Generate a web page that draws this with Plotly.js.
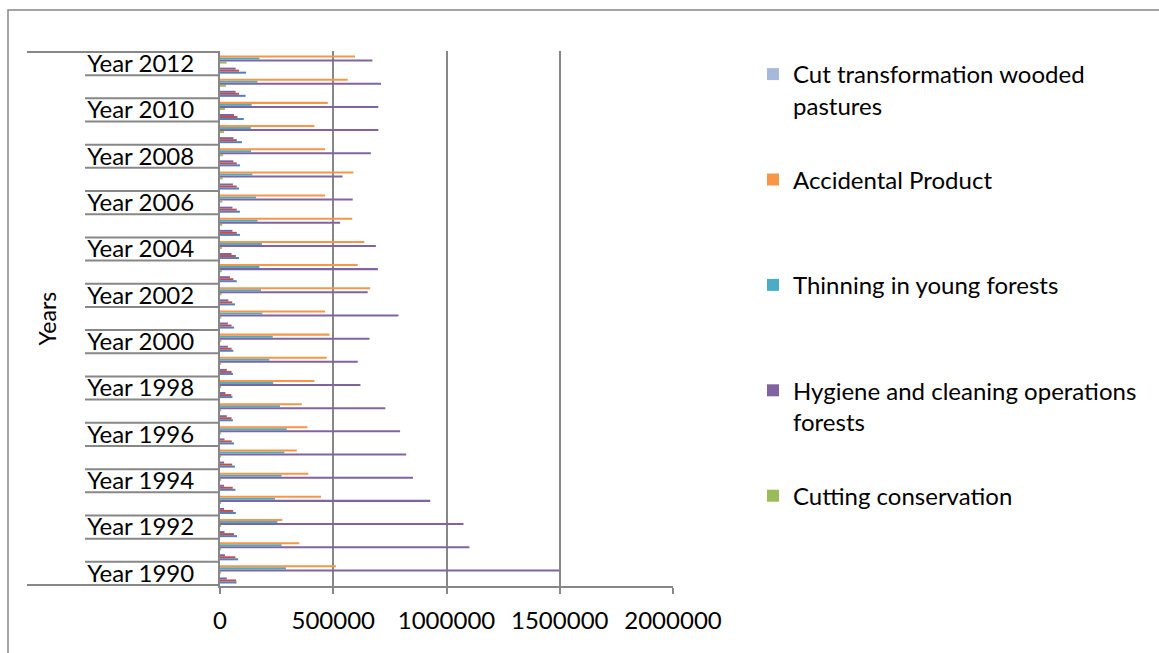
<!DOCTYPE html>
<html>
<head>
<meta charset="utf-8">
<script src="https://cdn.plot.ly/plotly-3.0.1.min.js"></script>
<style>
  html, body { margin: 0; padding: 0; background: #ffffff; }
  #chart { width: 1159px; height: 653px; }
</style>
</head>
<body>
<div id="chart"></div>
<script>
// ---- data ----
const years = ["Year 1990","Year 1991","Year 1992","Year 1993","Year 1994","Year 1995","Year 1996","Year 1997",
  "Year 1998","Year 1999","Year 2000","Year 2001","Year 2002","Year 2003","Year 2004","Year 2005","Year 2006",
  "Year 2007","Year 2008","Year 2009","Year 2010","Year 2011","Year 2012"];
const tickLabels = ["Year 1990","Year 1992","Year 1994","Year 1996","Year 1998","Year 2000","Year 2002",
  "Year 2004","Year 2006","Year 2008","Year 2010","Year 2012"];
const xTicks = [0, 500000, 1000000, 1500000, 2000000];

const seriesA = [73000,80000,75000,70000,68000,66000,62000,57000,55000,57000,59000,62000,66000,74000,84000,88000,88000,84000,88000,97000,105000,113000,115000];
const seriesB = [71000,68000,62000,58000,56000,54000,52000,51000,50000,51000,51000,51000,54000,59000,70000,74000,74000,74000,74000,74000,77000,84000,84000];
const seriesC = [30000,22000,20000,18000,18000,18000,20000,30000,24000,30000,35000,35000,37000,44000,51000,55000,55000,57000,59000,59000,62000,69000,69000];
const seriesD = [0,0,0,0,0,0,0,0,0,0,0,0,0,0,0,0,0,0,0,0,0,0,0];
const seriesE = [0,0,0,0,0,0,0,0,0,0,0,0,0,0,0,0,0,0,0,0,0,0,0];
const cuttingConservation = [5000,5000,5000,5000,5000,5000,5000,5000,5000,5000,6000,6000,7000,8000,9000,10000,10000,12000,14000,18000,22000,26000,29000];
const hygiene = [1499000,1101000,1075000,928000,852000,822000,795000,730000,620000,608000,660000,788000,652000,697000,688000,530000,586000,541000,666000,699000,699000,711000,673000];
const thinning = [291000,272000,253000,243000,272000,284000,295000,265000,235000,218000,233000,187000,181000,174000,185000,166000,159000,143000,137000,136000,140000,165000,174000];
const accidental = [512000,350000,275000,446000,390000,339000,386000,361000,417000,471000,483000,464000,663000,608000,637000,584000,464000,589000,464000,417000,476000,564000,596000];
const cutTransformation = [0,0,0,0,0,0,0,0,0,0,0,0,0,0,0,0,0,0,0,0,0,0,0];

const seriesList = [
  {name: "Series A", values: seriesA, color: "#4F81BD", legend: false},
  {name: "Series B", values: seriesB, color: "#C0504D", legend: false},
  {name: "Series C", values: seriesC, color: "#8064A2", legend: false},
  {name: "Series D", values: seriesD, color: "#4BACC6", legend: false},
  {name: "Series E", values: seriesE, color: "#F79646", legend: false},
  {name: "Cutting conservation", values: cuttingConservation, color: "#9BBB59", legend: true},
  {name: "Hygiene and cleaning operations<br>forests", values: hygiene, color: "#8064A2", legend: true},
  {name: "Thinning in young forests<br> ", values: thinning, color: "#4BACC6", legend: true},
  {name: "Accidental Product<br> ", values: accidental, color: "#F79646", legend: true},
  {name: "Cut transformation wooded<br>pastures", values: cutTransformation, color: "#A7B9DA", legend: true}
];

const traces = seriesList.map((s, i) => ({
  type: "bar",
  orientation: "h",
  name: s.name,
  x: s.values,
  y: years,
  marker: {color: s.color, line: {width: 0}},
  showlegend: s.legend,
  legendgroup: "g" + i,
  legendrank: (seriesList.length - i) * 10,
  hoverinfo: "x+y+name"
}));

// plot area geometry (pixels)
const W = 1159, H = 653;
const mL = 220, mR = 486, mT = 51, mB = 67;
const plotW = W - mL - mR, plotH = H - mT - mB;
const px = v => (v - mL) / plotW;      // pixel x -> paper x
const py = v => (H - mB - v) / plotH;  // pixel y -> paper y

const gray = "#878787";
const shapes = [];
// category separator lines (Excel style long tick marks)
for (let i = 0; i <= years.length; i++) {
  const edge = (i === 0 || i === years.length);
  shapes.push({
    type: "line", xref: "paper", yref: "y",
    x0: edge ? px(27) : px(85), x1: 0,
    y0: i - 0.5, y1: i - 0.5,
    line: {color: gray, width: 2}
  });
}
// outer chart frame
shapes.push({
  type: "rect", xref: "paper", yref: "paper",
  x0: px(8), x1: px(1300), y0: py(800), y1: py(10),
  line: {color: gray, width: 1.5}, fillcolor: "rgba(0,0,0,0)", layer: "below"
});

const fontFam = "Lato, 'Open Sans', sans-serif";

const layout = {
  width: W, height: H,
  margin: {l: mL, r: mR, t: mT, b: mB, pad: 0},
  paper_bgcolor: "#ffffff", plot_bgcolor: "#ffffff",
  font: {family: fontFam, size: 22, color: "#000000"},
  barmode: "group",
  bargap: 0.13,
  bargroupgap: 0,
  xaxis: {
    range: [0, 2000000],
    tickvals: xTicks,
    ticktext: xTicks.map(v => String(v)),
    showgrid: true, gridcolor: gray, gridwidth: 2,
    zeroline: false,
    showline: true, linecolor: gray, linewidth: 2,
    ticks: "outside", ticklen: 6, tickcolor: gray, tickwidth: 2,
    ticklabelstandoff: 6,
    tickfont: {family: fontFam, size: 24, color: "#000000"},
    fixedrange: true
  },
  yaxis: {
    type: "category",
    categoryorder: "array", categoryarray: years,
    tickvals: tickLabels, ticktext: tickLabels,
    showgrid: false, zeroline: false,
    showline: true, linecolor: gray, linewidth: 2,
    ticks: "outside", ticklen: 19, tickcolor: "rgba(0,0,0,0)",
    tickfont: {family: fontFam, size: 24, color: "#000000"},
    fixedrange: true
  },
  legend: {
    x: px(753), xanchor: "left",
    y: py(52), yanchor: "top",
    traceorder: "grouped",
    tracegroupgap: 40,
    valign: "top",
    font: {family: fontFam, size: 24, color: "#000000"},
    bgcolor: "rgba(0,0,0,0)"
  },
  annotations: [{
    text: "Years", xref: "paper", yref: "paper",
    x: px(46), y: 0.5, xanchor: "center", yanchor: "middle",
    textangle: -90, showarrow: false,
    font: {family: fontFam, size: 23, color: "#000000"}
  }],
  shapes: shapes,
  showlegend: true
};

Plotly.newPlot("chart", traces, layout, {displayModeBar: false, staticPlot: true});
</script>
</body>
</html>
